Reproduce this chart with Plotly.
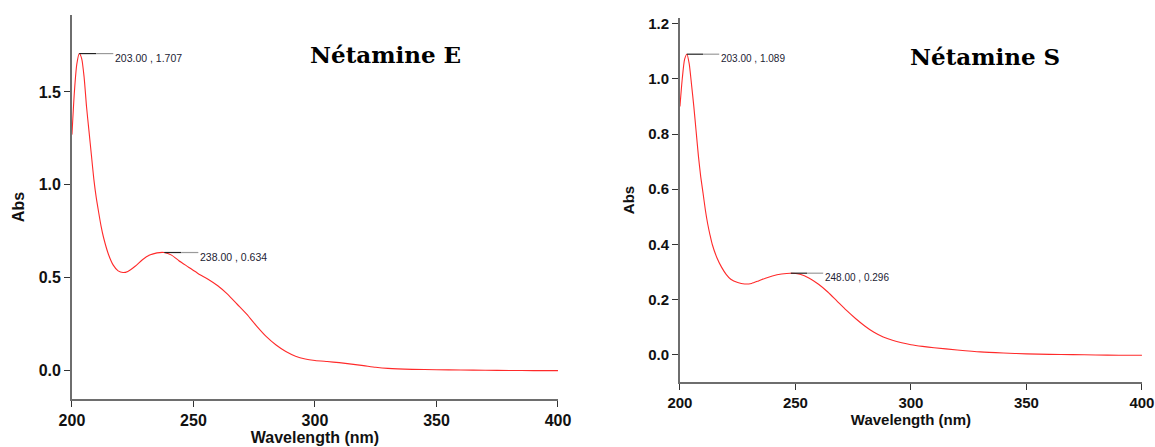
import plotly.graph_objects as go

# ---- data: Nétamine E ----
wl_E = [200, 201, 202, 203, 204, 205, 206, 207, 208, 209, 210, 211, 212, 213, 215, 217, 219, 221, 223,
        226, 229, 232, 235, 238, 241, 244, 248, 252, 256, 260, 264, 268, 272, 276, 280, 284, 288, 292,
        296, 300, 305, 310, 315, 320, 325, 330, 340, 350, 360, 370, 380, 390, 400]
abs_E = [1.27, 1.50, 1.65, 1.707, 1.68, 1.58, 1.42, 1.29, 1.16, 1.03, 0.93, 0.85, 0.775, 0.715, 0.625,
         0.566, 0.535, 0.526, 0.532, 0.56, 0.595, 0.62, 0.632, 0.634, 0.62, 0.59, 0.555, 0.52, 0.49,
         0.455, 0.41, 0.355, 0.30, 0.237, 0.18, 0.135, 0.10, 0.075, 0.06, 0.052, 0.046, 0.04, 0.032,
         0.024, 0.015, 0.009, 0.004, 0.002, 0.0, -0.001, -0.002, -0.003, -0.003]
peaks_E_wl = [203.0, 238.0]
peaks_E_abs = [1.707, 0.634]

# ---- data: Nétamine S ----
wl_S = [200, 201, 202, 203, 204, 205, 206, 207, 208, 209, 210, 211, 212, 213, 214, 216, 218, 220, 222,
        225, 228, 231, 234, 237, 240, 244, 248, 252, 256, 260, 264, 268, 272, 276, 280, 284, 288, 292,
        296, 300, 305, 310, 320, 330, 340, 350, 360, 370, 380, 390, 400]
abs_S = [0.90, 1.00, 1.07, 1.089, 1.055, 0.98, 0.90, 0.81, 0.72, 0.645, 0.586, 0.525, 0.475, 0.435,
         0.40, 0.352, 0.318, 0.292, 0.274, 0.262, 0.257, 0.259, 0.268, 0.278, 0.286, 0.293, 0.296,
         0.292, 0.278, 0.256, 0.228, 0.195, 0.162, 0.132, 0.105, 0.082, 0.065, 0.053, 0.044, 0.037,
         0.031, 0.026, 0.018, 0.011, 0.007, 0.004, 0.002, 0.001, 0.0, -0.001, -0.001]
peaks_S_wl = [203.0, 248.0]
peaks_S_abs = [1.089, 0.296]

x_ticks = [200, 250, 300, 350, 400]
y_ticks_E = [0.0, 0.5, 1.0, 1.5]
y_ticks_S = [0.0, 0.2, 0.4, 0.6, 0.8, 1.0, 1.2]
titles = ["Nétamine E", "Nétamine S"]

LEADER = 14.0
CURVE = "#ff2a2a"

fig = go.Figure()

panels = [
    (wl_E, abs_E, peaks_E_wl, peaks_E_abs, "x", "y", 10.5),
    (wl_S, abs_S, peaks_S_wl, peaks_S_abs, "x2", "y2", 10),
]
for wl, ab, pw, pa, xa, ya, fs in panels:
    fig.add_trace(go.Scatter(x=wl, y=ab, mode="lines", xaxis=xa, yaxis=ya,
                             line=dict(color=CURVE, width=1.1, shape="spline", smoothing=0.6),
                             hoverinfo="skip", showlegend=False))
    for w, a in zip(pw, pa):
        fig.add_trace(go.Scatter(x=[w, w + LEADER / 2], y=[a, a], mode="lines", xaxis=xa, yaxis=ya,
                                 line=dict(color="#222222", width=1.2),
                                 hoverinfo="skip", showlegend=False))
        fig.add_trace(go.Scatter(x=[w + LEADER / 2, w + LEADER], y=[a, a], mode="lines", xaxis=xa, yaxis=ya,
                                 line=dict(color="#9a9a9a", width=1.2),
                                 hoverinfo="skip", showlegend=False))
        fig.add_annotation(x=w + LEADER, y=a, xref=xa, yref=ya, text=f"{w:.2f} , {a:.3f}",
                           showarrow=False, xanchor="left", yanchor="middle", xshift=0, yshift=-4,
                           font=dict(family="Liberation Sans, Arial", size=fs, color="#222233"))

axis_common = dict(showline=True, linecolor="#6e6e6e", linewidth=1.6, ticks="outside", ticklen=6,
                   tickwidth=1.3, tickcolor="#333333", showgrid=False, zeroline=False,
                   automargin=False)

fig.update_layout(
    width=1155, height=447,
    margin=dict(l=0, r=0, t=0, b=0),
    paper_bgcolor="white", plot_bgcolor="white",
    xaxis=dict(domain=[0.0623, 0.4831], range=[200, 400], tickvals=x_ticks, anchor="y",
               tickfont=dict(family="Liberation Sans, Arial", size=16, color="#111", weight="bold"),
               title=dict(text="Wavelength (nm)", standoff=3,
                          font=dict(family="Liberation Sans, Arial", size=16, color="#111", weight="bold")),
               **axis_common),
    yaxis=dict(domain=[0.1074, 0.9664], range=[-0.156, 1.915], tickvals=y_ticks_E, tickformat=".1f",
               anchor="x",
               tickfont=dict(family="Liberation Sans, Arial", size=16, color="#111", weight="bold"),
               title=dict(text="Abs", standoff=10,
                          font=dict(family="Liberation Sans, Arial", size=16, color="#111", weight="bold")),
               **axis_common),
    xaxis2=dict(domain=[0.5887, 0.9887], range=[200, 400], tickvals=x_ticks, anchor="y2",
                tickfont=dict(family="Liberation Sans, Arial", size=15, color="#111", weight="bold"),
                title=dict(text="Wavelength (nm)", standoff=3,
                           font=dict(family="Liberation Sans, Arial", size=15, color="#111", weight="bold")),
                **axis_common),
    yaxis2=dict(domain=[0.1454, 0.9597], range=[-0.098, 1.22], tickvals=y_ticks_S, tickformat=".1f",
                anchor="x2",
                tickfont=dict(family="Liberation Sans, Arial", size=15, color="#111", weight="bold"),
                title=dict(text="Abs", standoff=10,
                           font=dict(family="Liberation Sans, Arial", size=15, color="#111", weight="bold")),
                **axis_common),
)

title_pos = [(0.334, 0.877), (0.853, 0.8725)]
for t, (px, py) in zip(titles, title_pos):
    fig.add_annotation(x=px, y=py, xref="paper", yref="paper", text=f"<b>{t}</b>", showarrow=False,
                       xanchor="center", yanchor="middle",
                       font=dict(family="DejaVu Serif", size=23, color="#000"))

fig.write_html("out.html", config={"displayModeBar": False},
               post_script="document.body.style.margin='0';document.body.style.overflow='hidden';")
